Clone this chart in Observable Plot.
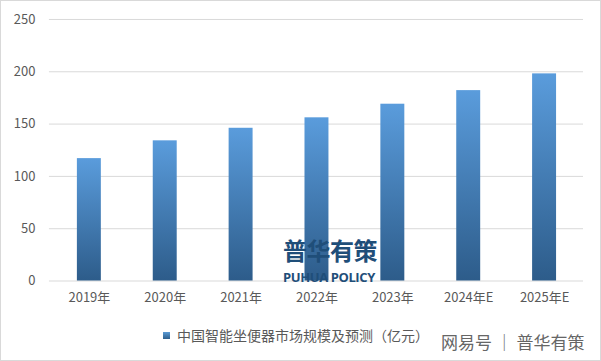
<!DOCTYPE html>
<html>
<head>
<meta charset="utf-8">
<script src="https://cdn.jsdelivr.net/npm/d3@7"></script>
<script src="https://cdn.jsdelivr.net/npm/@observablehq/plot@0.6"></script>
<style>
  html, body { margin: 0; padding: 0; background: #fff; }
  #wrap { position: relative; width: 599px; height: 359px; border: 1px solid #d9d9d9; overflow: hidden; font-family: "Noto Sans CJK SC", "Noto Sans", sans-serif; }
  #chart { position: absolute; left: -1px; top: -1px; }
  #legend { position: absolute; left: 162px; top: 324px; font-size: 14px; color: #595959; white-space: nowrap; display: flex; align-items: center; }
  #legend .sw { width: 7px; height: 7px; background: linear-gradient(#5b9bd5, #2e5f8c); margin-right: 7px; }
  #wm { position: absolute; left: 282px; top: 237px; color: #1f4e79; font-weight: 700; line-height: 1; }
  #wm .cn { font-size: 24px; letter-spacing: -0.5px; }
  #wm .en { font-size: 13px; font-family: "Open Sans", "DejaVu Sans", sans-serif; margin-top: 9px; letter-spacing: -0.4px; }
  #src { position: absolute; left: 440px; top: 328px; font-size: 17px; color: #666; white-space: nowrap; }
</style>
</head>
<body>
<div id="wrap">
  <div id="chart"></div>
  <div id="wm"><div class="cn">普华有策</div><div class="en">PUHUA POLICY</div></div>
  <div id="legend"><span class="sw"></span><span id="legendText"></span></div>
  <div id="src"></div>
</div>
<script>
const years = ["2019年", "2020年", "2021年", "2022年", "2023年", "2024年E", "2025年E"];
const values = [117, 134, 146, 156, 169, 182, 198];
const yTicks = [0, 50, 100, 150, 200, 250];
const seriesName = "中国智能坐便器市场规模及预测（亿元）";
const sourceText = "网易号 │ 普华有策";

const data = years.map((y, i) => ({year: y, value: values[i]}));

const chart = Plot.plot({
  width: 601,
  height: 320,
  marginLeft: 49,
  marginRight: 17,
  marginTop: 19,
  marginBottom: 39,
  style: {fontFamily: "'Noto Sans CJK SC', 'Noto Sans', sans-serif", fontSize: "13px", color: "#595959", background: "transparent"},
  x: {domain: years, paddingInner: 0.69, paddingOuter: 0.345, label: null},
  y: {domain: [0, 250], label: null},
  marks: [
    Plot.ruleY(yTicks, {stroke: "#d9d9d9", strokeWidth: 1}),
    Plot.barY(data, {x: "year", y: "value", fill: "url(#barGrad)"}),
    Plot.axisX({tickSize: 0, tickPadding: 12, fontSize: 13}),
    Plot.axisY({ticks: yTicks, tickSize: 0, tickPadding: 14, fontSize: 13})
  ]
});

const ns = "http://www.w3.org/2000/svg";
const defs = document.createElementNS(ns, "defs");
defs.innerHTML = '<linearGradient id="barGrad" x1="0" y1="0" x2="0" y2="1">' +
  '<stop offset="0" stop-color="#5a9cdc"/><stop offset="1" stop-color="#2d5c8a"/></linearGradient>';
chart.insertBefore(defs, chart.firstChild);

document.getElementById("chart").appendChild(chart);
document.getElementById("legendText").textContent = seriesName;
document.getElementById("src").textContent = sourceText;
</script>
</body>
</html>
